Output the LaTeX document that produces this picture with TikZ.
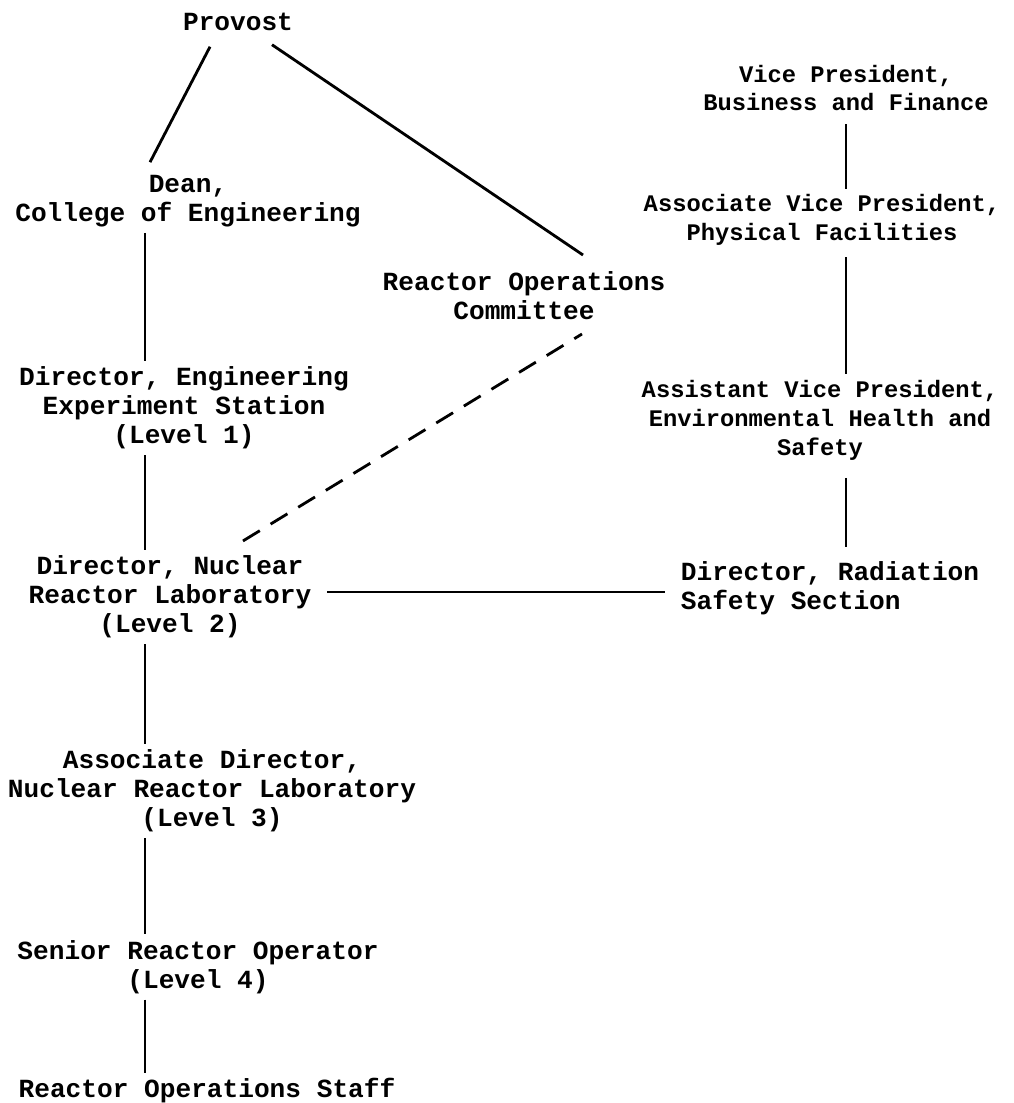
\documentclass[tikz,border=0pt]{standalone}
\usepackage{fontspec}
\usepackage{tikz}
\usetikzlibrary{calc}
\newfontfamily\typewfont{Liberation Mono}
\newcommand{\chartfont}{\typewfont\bfseries\fontsize{18.6}{20.6}\selectfont}
\newcommand{\chartfontsm}{\typewfont\bfseries\fontsize{16.9}{20.6}\selectfont}

\begin{document}
\begin{tikzpicture}[x=0.025cm,y=-0.025cm,
  post/.style={font=\chartfont,align=center,inner sep=4pt},
  postsm/.style={post,font=\chartfontsm},
  conn/.style={line width=2pt},
  dashconn/.style={line width=2pt,dash pattern=on 14pt off 9pt}]
\useasboundingbox (0,0) rectangle (1013,1103);
\coordinate (spineL) at (145,0);
\coordinate (spineR) at (846,0);

% left column
\node[post] (prov) at (238,22) {Provost};
\node[post] (dean) at (188,201) {Dean,\\College of Engineering};
\node[post] (roc) at (524,296) {Reactor Operations\\Committee};
\node[post] (ees) at (184,408) {Director, Engineering\\Experiment Station\\(Level 1)};
\node[post] (nrl) at (170,597) {Director, Nuclear\\Reactor Laboratory\\(Level 2)};
\node[post] (assoc) at (212,791) {Associate Director,\\Nuclear Reactor Laboratory\\(Level 3)};
\node[post] (sro) at (198,967) {Senior Reactor Operator\\(Level 4)};
\node[post] (staff) at (207,1091) {Reactor Operations Staff};

% right column
\node[postsm] (vpbf) at (846,88) {Vice President,\\Business and Finance};
\node[postsm] (avp) at (822,220) {Associate Vice President,\\Physical Facilities};
\node[postsm] (asvp) at (820,420) {Assistant Vice President,\\Environmental Health and\\Safety};
\node[post,align=left,anchor=west] (rss) at (675,588) {Director, Radiation\\Safety Section};

\draw[conn] ($(prov.south)+(-28,10)$) -- ($(dean.north)+(-38,-7)$);
\draw[conn] ($(prov.south)+(34,8)$) -- ($(roc.north)+(59,-11)$);
\draw[dashconn] ($(nrl.north)+(73,-9)$) -- ($(roc.south)+(58,8)$);

\draw[conn] (dean.south -| spineL) -- (ees.north -| spineL);
\draw[conn] (ees.south -| spineL) -- (nrl.north -| spineL);
\draw[conn] (nrl.south -| spineL) -- (assoc.north -| spineL);
\draw[conn] (assoc.south -| spineL) -- (sro.north -| spineL);
\draw[conn] (sro.south -| spineL) -- (staff.north -| spineL);

\draw[conn] ($(vpbf.south -| spineR)+(0,7)$) -- (avp.north -| spineR);
\draw[conn] ($(avp.south -| spineR)+(0,6)$) -- (asvp.north -| spineR);
\draw[conn] ($(asvp.south -| spineR)+(0,12)$) -- ($(rss.north -| spineR)+(0,-8)$);

\draw[conn] ($(nrl.east |- rss.west)+(10,4)$) -- ($(rss.west)+(-10,4)$);
\end{tikzpicture}
\end{document}
